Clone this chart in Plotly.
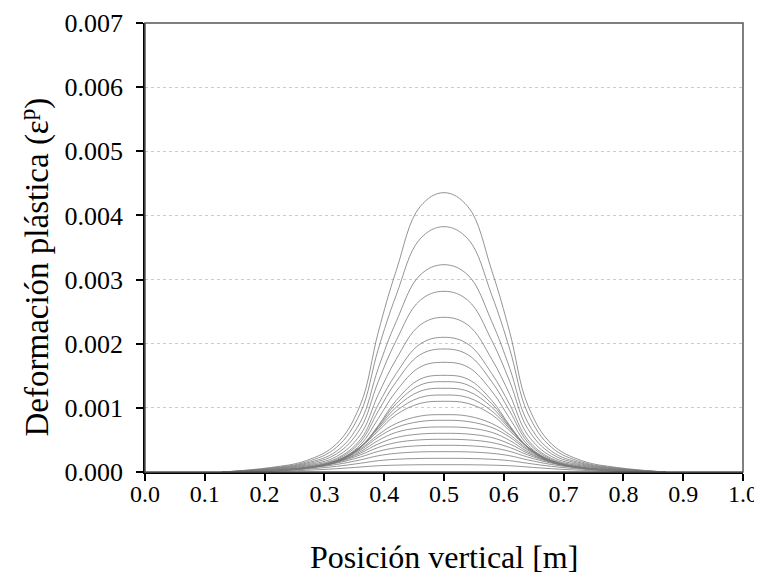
import plotly.graph_objects as go

# distance from the centre (x = 0.5) at which values were read, in m
offsets = [0.0, 0.04, 0.08, 0.11, 0.14, 0.18, 0.23, 0.29, 0.37]

# plastic strain (x1e-3) at the offsets above (symmetric curves)
curves_e3 = [
    [4.355, 4.137, 3.136, 2.178, 1.045, 0.436, 0.179, 0.070, 0.0],
    [3.825, 3.634, 2.754, 1.913, 0.918, 0.383, 0.157, 0.061, 0.0],
    [3.232, 3.070, 2.343, 1.616, 0.776, 0.323, 0.139, 0.053, 0.0],
    [2.817, 2.676, 2.048, 1.409, 0.676, 0.282, 0.124, 0.048, 0.0],
    [2.412, 2.291, 1.758, 1.206, 0.579, 0.241, 0.109, 0.041, 0.0],
    [2.100, 1.995, 1.533, 1.050, 0.504, 0.210, 0.095, 0.036, 0.0],
    [1.918, 1.828, 1.406, 0.948, 0.466, 0.192, 0.084, 0.031, 0.0],
    [1.710, 1.636, 1.259, 0.833, 0.422, 0.171, 0.074, 0.026, 0.0],
    [1.507, 1.447, 1.115, 0.723, 0.377, 0.151, 0.063, 0.021, 0.0],
    [1.408, 1.355, 1.064, 0.711, 0.384, 0.160, 0.065, 0.022, 0.0],
    [1.305, 1.259, 1.010, 0.694, 0.390, 0.168, 0.067, 0.022, 0.0],
    [1.200, 1.161, 0.951, 0.672, 0.390, 0.174, 0.067, 0.022, 0.0],
    [1.102, 1.069, 0.893, 0.639, 0.385, 0.176, 0.067, 0.021, 0.0],
    [0.894, 0.872, 0.756, 0.582, 0.359, 0.171, 0.063, 0.020, 0.0],
    [0.806, 0.787, 0.694, 0.543, 0.341, 0.165, 0.060, 0.019, 0.0],
    [0.702, 0.688, 0.618, 0.491, 0.316, 0.154, 0.056, 0.018, 0.0],
    [0.603, 0.592, 0.537, 0.437, 0.294, 0.155, 0.064, 0.021, 0.0],
    [0.510, 0.501, 0.459, 0.382, 0.267, 0.150, 0.067, 0.022, 0.0],
    [0.416, 0.410, 0.378, 0.321, 0.233, 0.138, 0.066, 0.022, 0.0],
    [0.317, 0.313, 0.291, 0.253, 0.189, 0.117, 0.059, 0.019, 0.0],
    [0.213, 0.211, 0.198, 0.176, 0.136, 0.088, 0.045, 0.015, 0.0],
    [0.114, 0.113, 0.107, 0.097, 0.078, 0.051, 0.027, 0.009, 0.0],
]

x_ticks = [0.0, 0.1, 0.2, 0.3, 0.4, 0.5, 0.6, 0.7, 0.8, 0.9, 1.0]
y_ticks = [0.000, 0.001, 0.002, 0.003, 0.004, 0.005, 0.006, 0.007]
centre = 0.5
x_title = "Posición vertical [m]"
y_title = "Deformación plástica (ε<sup>p</sup>)"

FONT = "Liberation Serif, Times New Roman, serif"

fig = go.Figure()
for c in curves_e3:
    xs = [centre - d for d in offsets[::-1]] + [centre + d for d in offsets[1:]]
    ys_half = [v * 1e-3 for v in c]
    ys = ys_half[::-1] + ys_half[1:]
    fig.add_trace(go.Scatter(
        x=xs, y=ys, mode="lines",
        line=dict(color="#7a7a7a", width=0.8, shape="spline", smoothing=1.1),
        showlegend=False, hoverinfo="skip",
    ))

fig.update_layout(
    width=770, height=578,
    margin=dict(l=137, r=35, t=15, b=114, autoexpand=False),
    paper_bgcolor="white", plot_bgcolor="white",
    font=dict(family=FONT, size=26, color="black"),
    showlegend=False,
    shapes=[dict(type="rect", xref="paper", yref="paper", x0=0, x1=1, y0=0, y1=1,
                 line=dict(color="#555555", width=1.5), layer="above")],
    annotations=[
        dict(text=x_title, xref="paper", yref="paper", x=0.5, y=0, yshift=-85,
             xanchor="center", yanchor="middle", showarrow=False,
             font=dict(family=FONT, size=32)),
        dict(text=y_title, xref="paper", yref="paper", x=0, y=0.5, xshift=-110, yshift=-20,
             xanchor="center", yanchor="middle", showarrow=False, textangle=-90,
             font=dict(family=FONT, size=33)),
    ],
)
fig.update_xaxes(
    range=[0, 1], tickvals=x_ticks, ticktext=[f"{v:.1f}" for v in x_ticks],
    ticks="outside", ticklen=7, tickwidth=1.5, tickcolor="black",
    showline=True, linecolor="black", linewidth=1.5, mirror=False,
    showgrid=False, zeroline=False, automargin=False,
    tickfont=dict(family=FONT, size=24), ticklabelstandoff=-8,
)
fig.update_yaxes(
    range=[0, 0.007], tickvals=y_ticks, ticktext=[f"{v:.3f}" for v in y_ticks],
    ticks="outside", ticklen=7, tickwidth=1.5, tickcolor="black",
    showline=True, linecolor="black", linewidth=1.5, mirror=False,
    showgrid=True, gridcolor="#cccccc", griddash="dot", gridwidth=1,
    zeroline=False, automargin=False,
    tickfont=dict(family=FONT, size=26), ticklabelstandoff=8,
)

fig.write_html("out.html")
